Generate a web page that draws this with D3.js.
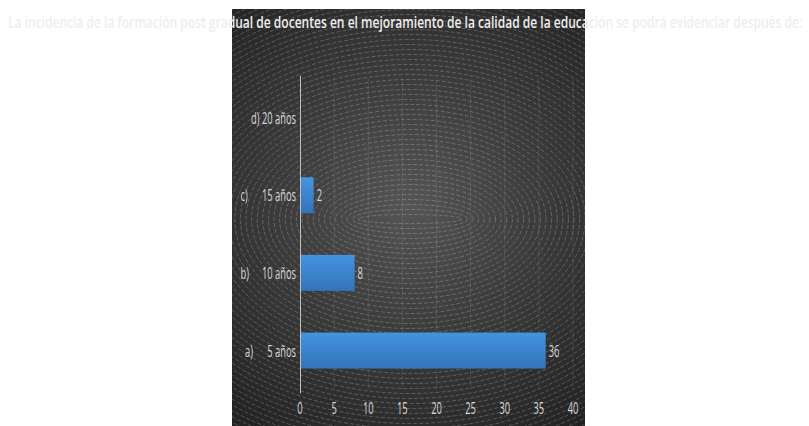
<!DOCTYPE html>
<html>
<head>
<meta charset="utf-8">
<script src="https://cdn.jsdelivr.net/npm/d3@7"></script>
<style>
  html, body { margin: 0; padding: 0; background: #ffffff; }
  svg { display: block; }
  text { font-family: "Open Sans", "DejaVu Sans", sans-serif; }
</style>
</head>
<body>
<svg id="chart" width="809" height="426"></svg>
<script>
// Survey answers: years until the effect of postgraduate teacher training is visible
const title = "La incidencia de la formación  post gradual de docentes en el mejoramiento de la calidad de la educación se podrá evidenciar  después de:";
const prefixes = ["a)", "b)", "c)", "d)"];
const periods = ["5 años", "10 años", "15 años", "20 años"];
const values = [36, 8, 2, null];
const xTicks = [0, 5, 10, 15, 20, 25, 30, 35, 40];

const categories = periods.map((p, i) => prefixes[i] + " " + p);

const svg = d3.select("#chart");
const panel = { x: 232, y: 9, w: 353, h: 417 };
const plot = { left: 300, right: 573, top: 78.7, bottom: 389.4 };

// Horizontal condensing of text around its anchor point (narrow face look)
function squeeze(sel, k) {
  sel.each(function () {
    const t = d3.select(this);
    const ax = +t.attr("x"), ay = +t.attr("y");
    t.attr("transform", `translate(${ax},${ay}) scale(${k},1) translate(${-ax},${-ay})`);
  });
}

const defs = svg.append("defs");
const bg = defs.append("radialGradient").attr("id", "bgGrad")
  .attr("gradientUnits", "userSpaceOnUse")
  .attr("cx", 410).attr("cy", 205).attr("r", 280);
bg.append("stop").attr("offset", "0").attr("stop-color", "#555555");
bg.append("stop").attr("offset", "0.45").attr("stop-color", "#3c3c3c");
bg.append("stop").attr("offset", "1").attr("stop-color", "#222222");

const barGrad = defs.append("linearGradient").attr("id", "barGrad")
  .attr("x1", 0).attr("y1", 0).attr("x2", 0).attr("y2", 1);
barGrad.append("stop").attr("offset", "0").attr("stop-color", "#4394e0");
barGrad.append("stop").attr("offset", "1").attr("stop-color", "#3473ba");

defs.append("clipPath").attr("id", "panelClip")
  .append("rect").attr("x", panel.x).attr("y", panel.y).attr("width", panel.w).attr("height", panel.h);

// Dark panel with concentric ring texture
svg.append("rect").attr("x", panel.x).attr("y", panel.y)
  .attr("width", panel.w).attr("height", panel.h).attr("fill", "url(#bgGrad)");

const rings = svg.append("g").attr("clip-path", "url(#panelClip)");
const ringIdx = d3.range(0, 70);
rings.selectAll("ellipse").data(ringIdx).join("ellipse")
  .attr("cx", 410).attr("cy", 219)
  .attr("rx", k => 52 + k * 5.6)
  .attr("ry", k => 4.5 + k * 5.0)
  .attr("fill", "none")
  .attr("stroke", "rgba(255,255,255,0.24)")
  .attr("stroke-width", 0.9)
  .attr("stroke-dasharray", "4 2");

// Scales
const x = d3.scaleLinear().domain([0, 40]).range([plot.left, plot.right]);
const y = d3.scaleBand().domain(categories).range([plot.bottom, plot.top])
  .paddingInner(0.537).paddingOuter(0.2685);

// Vertical gridlines
svg.append("g").selectAll("line").data(xTicks.slice(1)).join("line")
  .attr("x1", d => x(d)).attr("x2", d => x(d))
  .attr("y1", plot.top).attr("y2", plot.bottom)
  .attr("stroke", "rgba(255,255,255,0.09)").attr("stroke-width", 1);

// Bars
const rows = categories.map((c, i) => ({ cat: c, value: values[i] }));
svg.append("g").selectAll("rect").data(rows.filter(d => d.value != null)).join("rect")
  .attr("x", x(0))
  .attr("y", d => y(d.cat))
  .attr("width", d => x(d.value) - x(0))
  .attr("height", y.bandwidth())
  .attr("fill", "url(#barGrad)");

// Category axis line
svg.append("line")
  .attr("x1", x(0) + 0.5).attr("x2", x(0) + 0.5)
  .attr("y1", plot.top - 3).attr("y2", plot.bottom + 4)
  .attr("stroke", "#bfbfbf").attr("stroke-width", 1);

const labelColor = "#d9d9d9";
const K = 0.55;

// Value labels
const vl = svg.append("g").selectAll("text").data(rows.filter(d => d.value != null)).join("text")
  .attr("x", d => x(d.value) + 3)
  .attr("y", d => y(d.cat) + y.bandwidth() / 2 + 6)
  .attr("fill", labelColor).attr("font-size", 17)
  .text(d => d.value);
squeeze(vl, K);

// Category labels: period right-aligned next to the axis, letter set apart
const catG = svg.append("g");
rows.forEach((d, i) => {
  const cy = y(d.cat) + y.bandwidth() / 2 + 6;
  if (i === 3) {
    const t = catG.append("text").attr("x", 296).attr("y", cy)
      .attr("text-anchor", "end").attr("fill", labelColor).attr("font-size", 17)
      .text(d.cat);
    squeeze(t, K);
  } else {
    const t = catG.append("text").attr("x", 296).attr("y", cy)
      .attr("text-anchor", "end").attr("fill", labelColor).attr("font-size", 17)
      .text(periods[i]);
    squeeze(t, K);
    const p = catG.append("text").attr("x", i === 0 ? 245 : 240.5).attr("y", cy)
      .attr("fill", labelColor).attr("font-size", 17)
      .text(prefixes[i]);
    squeeze(p, K);
  }
});

// Value axis tick labels
const tl = svg.append("g").selectAll("text").data(xTicks).join("text")
  .attr("x", d => x(d)).attr("y", 414)
  .attr("text-anchor", "middle")
  .attr("fill", labelColor).attr("font-size", 17)
  .text(d => d);
squeeze(tl, K);

// Title, condensed to span the chart width
const tt = svg.append("text")
  .attr("x", 8).attr("y", 28)
  .attr("fill", "#eeeeee").attr("font-size", 17).attr("font-weight", 600)
  .text(title);
const tw = tt.node().getComputedTextLength();
squeeze(tt, 795 / tw);
</script>
</body>
</html>
